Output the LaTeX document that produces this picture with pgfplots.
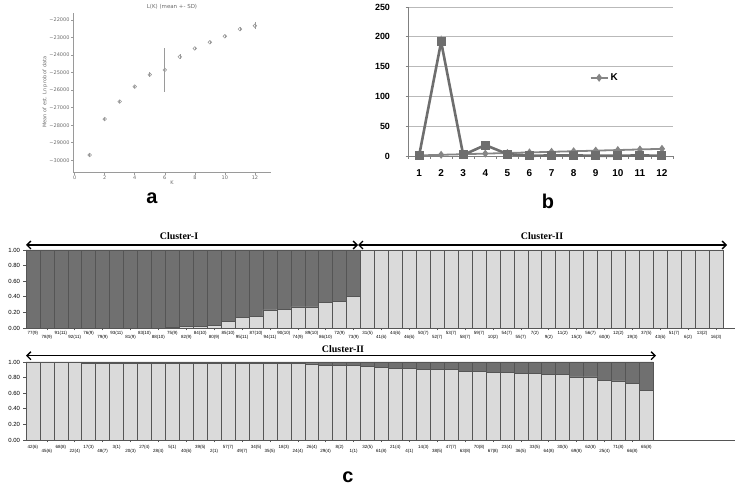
\documentclass[border=0pt]{standalone}
\usepackage{pgfplots}
\pgfplotsset{compat=1.18}
\usepackage{pgfplotstable}
\usepackage{fontspec}
\setmainfont{Liberation Sans}
\newfontfamily\djv{DejaVu Sans}
\newfontfamily\lserif{Liberation Serif}
\usetikzlibrary{arrows.meta}
\definecolor{darkbar}{HTML}{707070}
\definecolor{lightbar}{HTML}{DADADA}
\definecolor{edgec}{HTML}{555555}
\definecolor{agray}{HTML}{9A9A9A}
\definecolor{atext}{HTML}{6A6A6A}
\definecolor{bline}{HTML}{6E6E6E}
\definecolor{kline}{HTML}{858585}
\newcommand{\lo}[1]{\raisebox{-3.8bp}{#1}}

\pgfplotstableread{
k m sd
1 -29700 40
2 -27650 50
3 -26650 60
4 -25800 60
5 -25120 150
6 -24850 1255
7 -24100 150
8 -23620 80
9 -23270 80
10 -22930 80
11 -22520 120
12 -22330 200
}\tabA

\pgfplotstableread{
x l d
0.5 0 1
1.5 0 1
2.5 0 1
3.5 0 1
4.5 0 1
5.5 0 1
6.5 0 1
7.5 0 1
8.5 0 1
9.5 0 1
10.5 0.01 0.99
11.5 0.025 0.975
12.5 0.025 0.975
13.5 0.035 0.965
14.5 0.085 0.915
15.5 0.135 0.865
16.5 0.145 0.855
17.5 0.232 0.768
18.5 0.242 0.758
19.5 0.27 0.73
20.5 0.27 0.73
21.5 0.33 0.67
22.5 0.34 0.66
23.5 0.41 0.59
24.5 1 0
25.5 1 0
26.5 1 0
27.5 1 0
28.5 1 0
29.5 1 0
30.5 1 0
31.5 1 0
32.5 1 0
33.5 1 0
34.5 1 0
35.5 1 0
36.5 1 0
37.5 1 0
38.5 1 0
39.5 1 0
40.5 1 0
41.5 1 0
42.5 1 0
43.5 1 0
44.5 1 0
45.5 1 0
46.5 1 0
47.5 1 0
48.5 1 0
49.5 1 0
}\tabCt

\pgfplotstableread{
x l d
0.5 0.99 0.01
1.5 0.99 0.01
2.5 0.99 0.01
3.5 0.99 0.01
4.5 0.985 0.015
5.5 0.985 0.015
6.5 0.985 0.015
7.5 0.985 0.015
8.5 0.985 0.015
9.5 0.985 0.015
10.5 0.985 0.015
11.5 0.985 0.015
12.5 0.985 0.015
13.5 0.985 0.015
14.5 0.98 0.02
15.5 0.98 0.02
16.5 0.98 0.02
17.5 0.98 0.02
18.5 0.98 0.02
19.5 0.98 0.02
20.5 0.975 0.025
21.5 0.96 0.04
22.5 0.96 0.04
23.5 0.955 0.045
24.5 0.944 0.056
25.5 0.927 0.073
26.5 0.918 0.082
27.5 0.914 0.086
28.5 0.906 0.094
29.5 0.906 0.094
30.5 0.90 0.10
31.5 0.88 0.12
32.5 0.88 0.12
33.5 0.87 0.13
34.5 0.863 0.137
35.5 0.85 0.15
36.5 0.85 0.15
37.5 0.84 0.16
38.5 0.84 0.16
39.5 0.808 0.192
40.5 0.808 0.192
41.5 0.765 0.235
42.5 0.757 0.243
43.5 0.726 0.274
44.5 0.636 0.364
}\tabCb

\begin{document}
\begin{tikzpicture}
\useasboundingbox (0,0) rectangle (738bp,485bp);

% ---------------- panel a ----------------
\begin{axis}[
  at={(73bp,312bp)}, anchor=south west, scale only axis,
  width=198bp, height=160bp,
  xmin=-0.11, xmax=13.07, ymin=-30726, ymax=-21600,
  scaled y ticks=false, scaled x ticks=false,
  axis x line*=bottom, axis y line*=left,
  axis line style={-, agray, line width=1bp},
  xtick={0,2,4,6,8,10,12},
  ytick={-30000,-29000,-28000,-27000,-26000,-25000,-24000,-23000,-22000},
  yticklabels={−30000,−29000,−28000,−27000,−26000,−25000,−24000,−23000,−22000},
  tick align=outside, major tick length=2bp,
  tick style={agray, line width=0.5bp},
  /pgf/number format/assume math mode=true,
  ticklabel style={font=\djv\fontsize{5}{6}\selectfont, text=atext},
  xticklabel style={yshift=3bp},
  yticklabel style={xshift=2bp},
  clip=false,
]
\addplot[agray, only marks, mark=o, mark size=1.8bp, line width=0.6bp,
  error bars/.cd, y dir=both, y explicit,
  error bar style={agray, line width=0.6bp}, error mark=none]
  table[x=k, y=m, y error=sd]{\tabA};
\end{axis}
\node[font=\djv\fontsize{5.5}{6}\selectfont, text=atext] at (172bp,478bp) {L(K) (mean +- SD)};
\node[font=\djv\fontsize{5}{6}\selectfont, text=atext] at (172bp,302bp) {K};
\node[font=\djv\fontsize{5}{6}\selectfont, text=atext, rotate=90] at (45bp,393bp) {Mean of est. Ln prob of data};
\node[font=\fontsize{20}{22}\selectfont\bfseries] at (152bp,287bp) {a};

% ---------------- panel b ----------------
\begin{axis}[
  at={(408bp,329bp)}, anchor=south west, scale only axis,
  width=265bp, height=149bp,
  xmin=0.5, xmax=12.5, ymin=0, ymax=250,
  axis x line*=bottom, axis y line*=left,
  axis line style={-, gray, line width=0.8bp},
  xtick={1,2,3,4,5,6,7,8,9,10,11,12},
  ytick={0,50,100,150,200,250},
  minor xtick={0.5,1.5,2.5,3.5,4.5,5.5,6.5,7.5,8.5,9.5,10.5,11.5,12.5},
  major x tick style={draw=none},
  tick align=outside, major tick length=2.5bp, minor tick length=3bp,
  tick style={gray, line width=0.8bp},
  ymajorgrids, grid style={color=gray!55, line width=0.8bp},
  /pgf/number format/assume math mode=true,
  ticklabel style={font=\fontsize{10}{12}\selectfont\bfseries},
  yticklabel style={font=\fontsize{9}{10}\selectfont\bfseries, xshift=-12bp},
  xticklabel style={yshift=-8bp},
  clip=false,
  legend style={at={(0.685,0.525)}, anchor=west, draw=none, fill=none,
    font=\fontsize{10}{12}\selectfont\bfseries, inner sep=0pt},
]
\addplot[kline, line width=1.8bp, mark=diamond*, mark size=2.6bp,
  mark options={fill=kline, solid}]
  coordinates {(1,1)(2,2)(3,3)(4,4)(5,5)(6,6)(7,7)(8,8)(9,9)(10,10)(11,11)(12,12)};
\addlegendentry{K}
\addplot[bline, line width=2.6bp, mark=square*, mark size=3.2bp,
  mark options={fill=bline, solid}, forget plot]
  coordinates {(1,0)(2,191.5)(3,1.7)(4,18.4)(5,3.3)(6,0.3)(7,1)(8,1)(9,0.4)(10,0.4)(11,1)(12,0.4)};
\end{axis}
\node[font=\fontsize{20}{22}\selectfont\bfseries] at (548bp,284bp) {b};

% ---------------- panel c, top row ----------------
\begin{axis}[
  at={(26bp,157bp)}, anchor=south west, scale only axis,
  width=709bp, height=78bp,
  xmin=0, xmax=50.86, ymin=0, ymax=1,
  ybar stacked, bar width=1,
  axis x line*=bottom, axis y line*=left,
  axis line style={-, edgec, line width=0.7bp},
  ytick={0,0.2,0.4,0.6,0.8,1},
  yticklabels={0.00,0.20,0.40,0.60,0.80,1.00},
  xtick={0.5,1.5,...,49.5},
  xticklabels={77(9),\lo{78(9)},91(11),\lo{92(11)},76(9),\lo{79(9)},93(11),\lo{81(9)},83(10),\lo{88(10)},75(9),\lo{82(9)},84(10),\lo{80(9)},85(10),\lo{95(11)},87(10),\lo{94(11)},90(10),\lo{74(9)},89(10),\lo{86(10)},72(9),\lo{73(9)},31(5),\lo{41(6)},44(6),\lo{46(6)},50(7),\lo{52(7)},53(7),\lo{58(7)},59(7),\lo{10(2)},54(7),\lo{55(7)},7(2),\lo{9(2)},11(2),\lo{15(3)},56(7),\lo{60(8)},12(2),\lo{19(3)},37(5),\lo{43(6)},51(7),\lo{6(2)},13(2),\lo{16(3)}},
  minor xtick={1.5,3.5,...,49.5},
  major x tick style={draw=none},
  tick align=outside, major tick length=2.5bp, minor tick length=2.5bp,
  tick style={edgec, line width=0.6bp},
  xticklabel style={font=\fontsize{4.5}{5}\selectfont, anchor=base, yshift=-4bp},
  yticklabel style={font=\fontsize{6}{7}\selectfont},
]
\addplot[fill=lightbar, draw=edgec, line width=0.6bp] table[x=x, y=l]{\tabCt};
\addplot[fill=darkbar, draw=edgec, line width=0.6bp] table[x=x, y=d]{\tabCt};
\end{axis}

% ---------------- panel c, bottom row ----------------
\begin{axis}[
  at={(26bp,45bp)}, anchor=south west, scale only axis,
  width=709bp, height=78bp,
  xmin=0, xmax=50.86, ymin=0, ymax=1,
  ybar stacked, bar width=1,
  axis x line*=bottom, axis y line*=left,
  axis line style={-, edgec, line width=0.7bp},
  ytick={0,0.2,0.4,0.6,0.8,1},
  yticklabels={0.00,0.20,0.40,0.60,0.80,1.00},
  xtick={0.5,1.5,...,44.5},
  xticklabels={42(6),\lo{45(6)},68(8),\lo{22(4)},17(3),\lo{48(7)},3(1),\lo{20(3)},27(4),\lo{28(4)},5(1),\lo{40(6)},39(5),\lo{2(1)},57(7),\lo{49(7)},34(5),\lo{35(5)},18(3),\lo{24(4)},26(4),\lo{29(4)},8(2),\lo{1(1)},32(5),\lo{61(8)},21(4),\lo{4(1)},14(3),\lo{38(5)},47(7),\lo{63(8)},70(8),\lo{67(8)},23(4),\lo{36(5)},33(5),\lo{64(8)},30(5),\lo{69(8)},62(8),\lo{25(4)},71(8),\lo{66(8)},65(8)},
  minor xtick={1.5,3.5,...,43.5},
  major x tick style={draw=none},
  tick align=outside, major tick length=2.5bp, minor tick length=2.5bp,
  tick style={edgec, line width=0.6bp},
  xticklabel style={font=\fontsize{4.5}{5}\selectfont, anchor=base, yshift=-6.5bp},
  yticklabel style={font=\fontsize{6}{7}\selectfont},
]
\addplot[fill=lightbar, draw=edgec, line width=0.6bp] table[x=x, y=l]{\tabCb};
\addplot[fill=darkbar, draw=edgec, line width=0.6bp] table[x=x, y=d]{\tabCb};
\end{axis}

% cluster arrows and labels
\tikzset{clarrow/.style={line width=1.3bp,
  {Straight Barb[length=4bp,width=8bp,line width=1.3bp]}-{Straight Barb[length=4bp,width=8bp,line width=1.3bp]}}}
\draw[clarrow] (26bp,240bp) -- (358bp,240bp);
\draw[clarrow] (358bp,240bp) -- (727bp,240bp);
\draw[clarrow] (26bp,129.3bp) -- (656bp,129.3bp);
\node[font=\lserif\fontsize{10}{12}\selectfont\bfseries] at (179bp,249bp) {Cluster-I};
\node[font=\lserif\fontsize{10}{12}\selectfont\bfseries] at (542bp,249bp) {Cluster-II};
\node[font=\lserif\fontsize{10}{12}\selectfont\bfseries] at (343bp,136bp) {Cluster-II};
\node[font=\fontsize{20}{22}\selectfont\bfseries] at (348bp,8bp) {c};
\end{tikzpicture}
\end{document}
